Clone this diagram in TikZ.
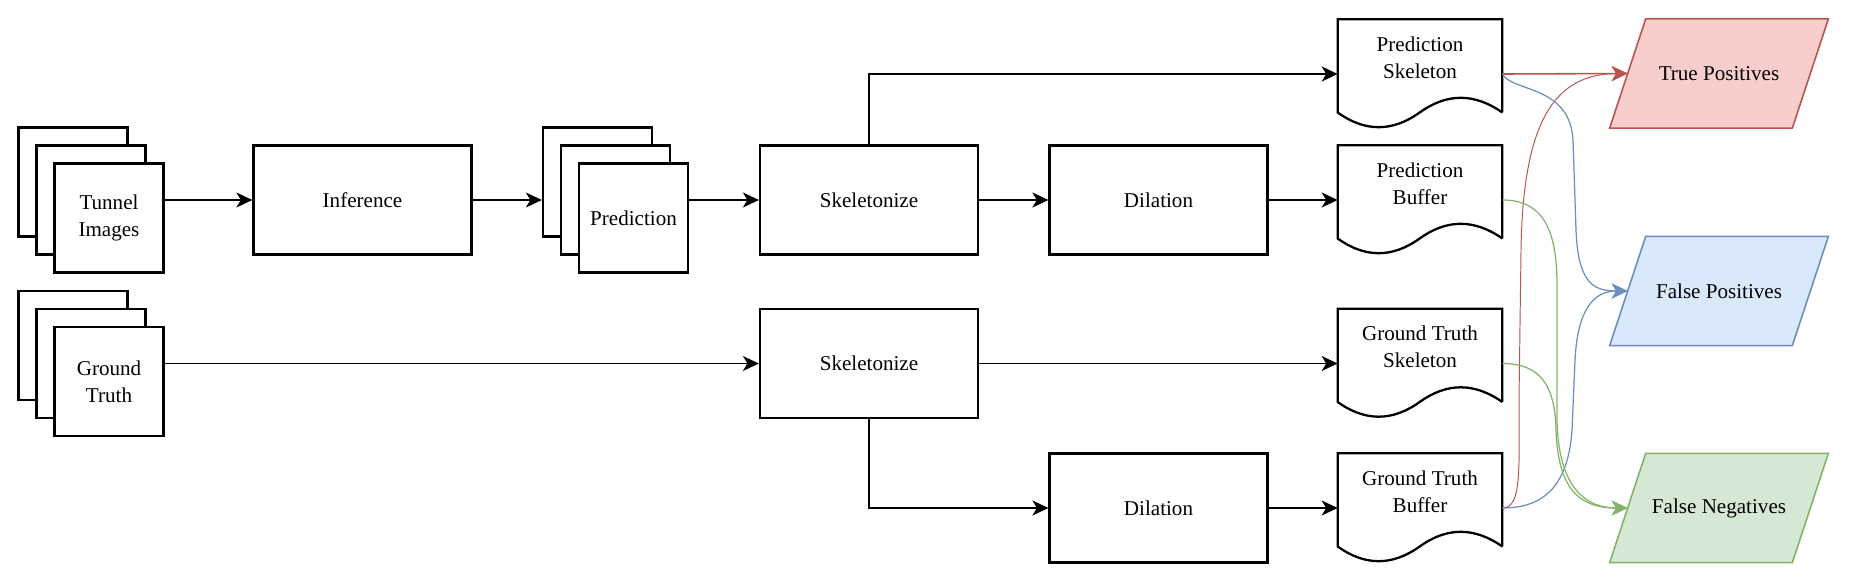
\documentclass[tikz,border=0pt]{standalone}
\usepackage{fontspec}
\setmainfont{Liberation Serif}
\usetikzlibrary{arrows.meta}
\definecolor{tpfill}{HTML}{F8CECC}
\definecolor{tpline}{HTML}{B85450}
\definecolor{fpfill}{HTML}{DAE8FC}
\definecolor{fpline}{HTML}{6C8EBF}
\definecolor{fnfill}{HTML}{D5E8D4}
\definecolor{fnline}{HTML}{82B366}
\newcommand{\docshape}[1]{%
\draw[line width=1.3pt] ([yshift=0.327cm]#1.south east) -- (#1.north east) -- (#1.north west) -- ([yshift=0.327cm]#1.south west)
 .. controls ([xshift=0.547cm,yshift=-0.065cm]#1.south west) and ([xshift=1.093cm,yshift=-0.065cm]#1.south west) .. ([xshift=1.64cm,yshift=0.327cm]#1.south west)
 .. controls ([xshift=2.187cm,yshift=0.719cm]#1.south west) and ([xshift=2.733cm,yshift=0.719cm]#1.south west) .. ([yshift=0.327cm]#1.south east);}
\newcommand{\resultshape}[3]{%
\draw[line width=0.9pt,draw=#2,fill=#3] ([xshift=-0.36cm]#1.south west) -- ([xshift=0.36cm]#1.north west) -- ([xshift=0.36cm]#1.north east) -- ([xshift=-0.36cm]#1.south east) -- cycle;}
\begin{document}
\begin{tikzpicture}[x=0.02cm,y=-0.02cm,font=\fontsize{12}{15.3}\selectfont,
  box/.style={draw,line width=1.3pt,minimum width=4.36cm,minimum height=2.18cm},
  sheet/.style={draw,fill=white,line width=1.3pt,minimum width=2.18cm,minimum height=2.18cm,align=center},
  docbox/.style={minimum width=3.28cm,minimum height=2.18cm},
  result/.style={minimum width=3.64cm,minimum height=2.17cm},
  arr/.style={-{Stealth[length=0.32cm,width=0.3cm,inset=0.09cm]},line width=0.9pt},
  curve/.style={-{Stealth[length=0.32cm,width=0.3cm,inset=0.09cm]},line width=0.7pt}]
\useasboundingbox (0,0) rectangle (1849,582);
\node[sheet] (ti1) at (73,182) {};
\node[sheet] (ti2) at (91,200) {};
\node[sheet] (ti3) at (109,218) {Tunnel\\Images};
\node[sheet] (gt1) at (73,345.5) {};
\node[sheet] (gt2) at (91,363.5) {};
\node[sheet] (gt3) at (109,381.5) {Ground\\Truth};
\node[box] (inf) at (362.5,200) {Inference};
\node[sheet] (pr1) at (597.5,182) {};
\node[sheet] (pr2) at (615.5,200) {};
\node[sheet] (pr3) at (633.5,218) {Prediction};
\node[box] (sk1) at (869,200) {Skeletonize};
\node[box] (dl1) at (1158.5,200) {Dilation};
\node[box] (sk2) at (869,363.5) {Skeletonize};
\node[box] (dl2) at (1158.5,508) {Dilation};
\node[docbox] (ps) at (1420,74) {};
\node[docbox] (pb) at (1420,200) {};
\node[docbox] (gs) at (1420,363.5) {};
\node[docbox] (gb) at (1420,508) {};
\foreach \d in {ps,pb,gs,gb} \docshape{\d};
\node[align=center] (ps-t) at ([yshift=0.327cm]ps.center) {Prediction\\Skeleton};
\node[align=center] (pb-t) at ([yshift=0.327cm]pb.center) {Prediction\\Buffer};
\node[align=center] (gs-t) at ([yshift=0.327cm]gs.center) {Ground Truth\\Skeleton};
\node[align=center] (gb-t) at ([yshift=0.327cm]gb.center) {Ground Truth\\Buffer};
\node[result] (tp) at (1719,73.5) {};
\node[result] (fp) at (1719,291) {};
\node[result] (fn) at (1719,508) {};
\resultshape{tp}{tpline}{tpfill}
\resultshape{fp}{fpline}{fpfill}
\resultshape{fn}{fnline}{fnfill}
\node (tp-t) at (tp) {True Positives};
\node (fp-t) at (fp) {False Positives};
\node (fn-t) at (fn) {False Negatives};
\draw[arr] (ti3.east |- ti2) -- (inf.west);
\draw[arr] (inf.east) -- (inf.east -| pr1.west);
\draw[arr] (pr3.east |- pr2) -- (sk1.west);
\draw[arr] (sk1.east) -- (dl1.west);
\draw[arr] (dl1.east) -- (pb.west);
\draw[arr] (sk1.north) |- (ps.west);
\draw[arr] (gt3.east |- gt2) -- (sk2.west);
\draw[arr] (sk2.east) -- (gs.west);
\draw[arr] (sk2.south) |- (dl2.west);
\draw[arr] (dl2.east) -- (gb.west);
\draw[curve,tpline,line width=0.9pt] (ps.east) -- (tp.west);
\draw[curve,tpline,line width=0.55pt] (gb.east) .. controls (1522,508) and (1519,470) .. (1519,400) -- (1521,250) .. controls (1523,120) and (1555,74) .. (tp.west);
\draw[curve,fpline] (ps.east) .. controls (1512,92) and (1570,85) .. (1573,140) -- (1576,230) .. controls (1578,285) and (1595,291) .. (fp.west);
\draw[curve,fpline] (gb.east) .. controls (1540,508) and (1568,490) .. (1572,430) -- (1575,360) .. controls (1578,300) and (1600,291) .. (fp.west);
\draw[curve,fnline] (pb.east) .. controls (1540,200) and (1556,225) .. (1557,280) -- (1557,420) .. controls (1558,480) and (1580,508) .. (fn.west);
\draw[curve,fnline] (gs.east) .. controls (1540,363.5) and (1555,385) .. (1556,430) .. controls (1558,490) and (1580,508) .. (fn.west);
\end{tikzpicture}
\end{document}
